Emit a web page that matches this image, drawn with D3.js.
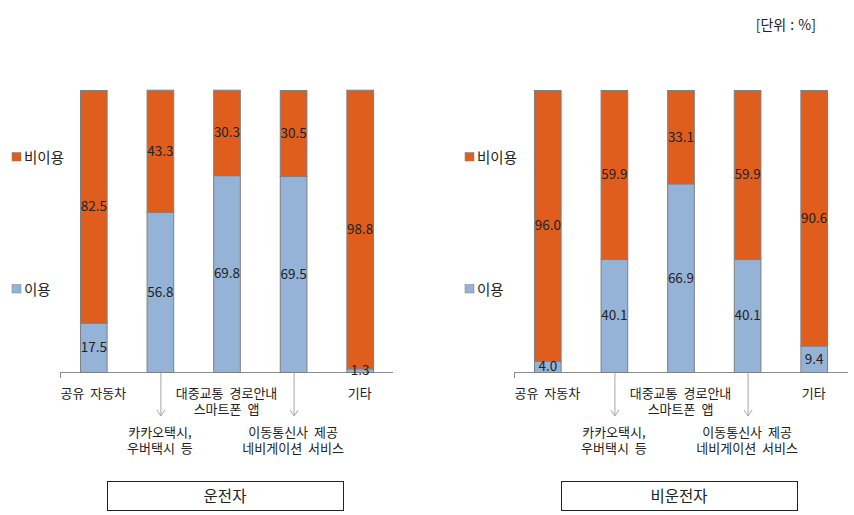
<!DOCTYPE html>
<html><head><meta charset="utf-8">
<script src="https://cdn.jsdelivr.net/npm/d3@7"></script>
<style>body{margin:0;background:#fff}svg{display:block}text{font-family:"Noto Sans CJK KR","Noto Sans",sans-serif;fill:#222}</style>
</head><body><svg id="c" width="854" height="515"></svg>
<script>
const categories = ["공유 자동차", "카카오택시, 우버택시 등", "대중교통 경로안내 스마트폰 앱", "이동통신사 제공 네비게이션 서비스", "기타"];
const catLines = [["공유 자동차"], ["카카오택시,", "우버택시 등"], ["대중교통 경로안내", "스마트폰 앱"], ["이동통신사 제공", "네비게이션 서비스"], ["기타"]];
const seriesNames = ["이용", "비이용"];
const driverUse = [17.5, 56.8, 69.8, 69.5, 1.3];
const driverNonUse = [82.5, 43.3, 30.3, 30.5, 98.8];
const nonDriverUse = [4.0, 40.1, 66.9, 40.1, 9.4];
const nonDriverNonUse = [96.0, 59.9, 33.1, 59.9, 90.6];
const panelTitles = ["운전자", "비운전자"];
const unitLabel = "[단위 : %]";

const colors = {"이용": "#95B3D7", "비이용": "#DF5E1E"};
const svg = d3.select("#c");

svg.append("text").attr("x", 816).attr("y", 30).attr("text-anchor", "end")
  .style("font-size", "14px").style("word-spacing", "1px").text(unitLabel);

const panels = [
  {off: 0, use: driverUse, non: driverNonUse, title: panelTitles[0], axisL: 60, axisR: 393, legX: 12},
  {off: 454, use: nonDriverUse, non: nonDriverNonUse, title: panelTitles[1], axisL: 514, axisR: 848, legX: 465}
];

const y = d3.scaleLinear().domain([0, 100]).range([372, 90]);

panels.forEach(p => {
  const g = svg.append("g");
  const x = d3.scaleBand().domain(categories).range([p.off + 60, p.off + 393]).paddingInner(0.6).paddingOuter(0.3);
  const data = categories.map((c, i) => ({cat: c, i, "이용": p.use[i], "비이용": p.non[i]}));
  const stacked = d3.stack().keys(seriesNames)(data);

  // axis
  g.append("line").attr("x1", p.axisL).attr("x2", p.axisR).attr("y1", 372.5).attr("y2", 372.5)
    .attr("stroke", "#8c8c8c").attr("stroke-width", 1);
  g.append("line").attr("x1", p.axisL + 0.5).attr("x2", p.axisL + 0.5).attr("y1", 372).attr("y2", 378)
    .attr("stroke", "#8c8c8c");

  stacked.forEach(s => {
    g.selectAll(null).data(s).enter().append("rect")
      .attr("x", d => x(d.data.cat) + 0.5)
      .attr("y", d => y(d[1]) + 0.5)
      .attr("width", x.bandwidth())
      .attr("height", d => Math.max(0, y(d[0]) - y(d[1])))
      .attr("fill", colors[s.key])
      .attr("stroke", "#7f7f7f").attr("stroke-width", 1);
  });
  stacked.forEach(s => {
    g.selectAll(null).data(s).enter().append("text")
      .attr("x", d => x(d.data.cat) + x.bandwidth() / 2 + 0.5)
      .attr("y", d => (y(d[0]) + y(d[1])) / 2)
      .attr("dy", "0.36em")
      .attr("text-anchor", "middle")
      .style("font-size", "13.5px")
      .text(d => (d[1] - d[0]).toFixed(1));
  });

  // category labels
  catLines.forEach((lines, i) => {
    const cx = x(categories[i]) + x.bandwidth() / 2;
    const down = (i === 1 || i === 3);
    const baseY = down ? 437 : 398;
    const t = g.append("text").attr("x", cx).attr("y", baseY).attr("text-anchor", "middle")
      .style("font-size", "13px").style("word-spacing", "3px");
    lines.forEach((s, k) => {
      t.append("tspan").attr("x", cx).attr("dy", k === 0 ? 0 : 16).text(s);
    });
    if (down) {
      g.append("line").attr("x1", cx + 1).attr("x2", cx + 1).attr("y1", 373).attr("y2", 416)
        .attr("stroke", "#a6a6a6").attr("stroke-width", 1);
      g.append("path").attr("d", `M${cx - 3},${410} L${cx + 1},${416} L${cx + 5},${410}`)
        .attr("fill", "none").attr("stroke", "#a6a6a6").attr("stroke-width", 1);
    }
  });

  // legend
  [["비이용", 157], ["이용", 289]].forEach(([k, ly]) => {
    g.append("rect").attr("x", p.legX).attr("y", ly - 4.5).attr("width", 9).attr("height", 8.5)
      .attr("fill", colors[k]).attr("stroke", "#7f7f7f").attr("stroke-width", 0.5);
    g.append("text").attr("x", p.legX + 12).attr("y", ly + 1).attr("dy", "0.36em")
      .style("font-size", "14.5px").text(k);
  });

  // title box
  const bx = p.off + 107;
  g.append("rect").attr("x", bx + 0.5).attr("y", 481.5).attr("width", 236).attr("height", 29)
    .attr("fill", "#fff").attr("stroke", "#222").attr("stroke-width", 1);
  g.append("text").attr("x", bx + 118).attr("y", 496).attr("dy", "0.36em").attr("text-anchor", "middle")
    .style("font-size", "15.5px").text(p.title);
});
</script></body></html>
